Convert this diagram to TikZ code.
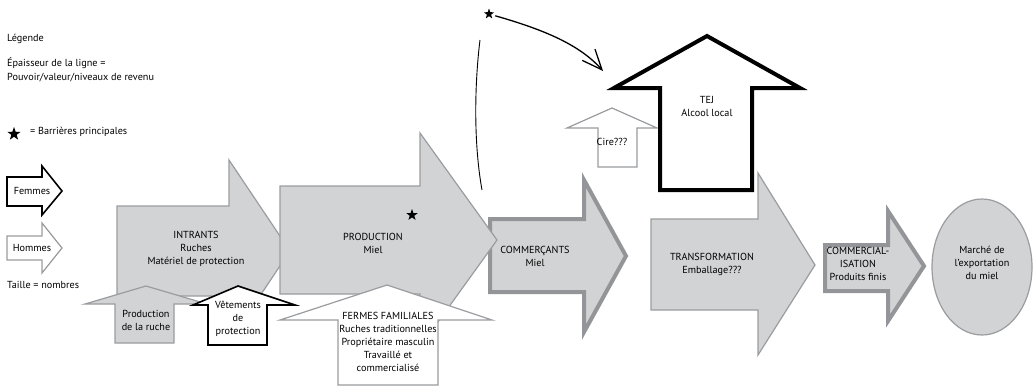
\documentclass[tikz,border=0pt]{standalone}
\usepackage{fontspec}
\setmainfont{PT Sans}
\usetikzlibrary{arrows.meta,shapes.geometric}
\definecolor{boxfill}{HTML}{D1D3D4}
\definecolor{boxline}{HTML}{9A9C9F}
\definecolor{heavyline}{HTML}{939598}
\begin{document}
\begin{tikzpicture}[x=1pt,y=-1pt,
  txt/.style={font=\fontsize{10.2}{13}\selectfont, align=center, inner sep=0pt},
  legendtxt/.style={font=\fontsize{10.2}{14.5}\selectfont, align=left, anchor=west, inner sep=0pt},
  stage/.style={fill=boxfill, draw=boxline, line width=1.2pt, line join=miter},
  heavystage/.style={fill=boxfill, draw=heavyline, line width=4pt, line join=miter},
  menarrow/.style={fill=white, draw=boxline, line width=1.2pt, line join=miter},
  womenarrow/.style={fill=white, draw=black, line width=1.6pt, line join=miter},
  barrier/.style={star, star points=5, star point ratio=2.5, fill=black, inner sep=0pt, minimum size=#1},
  barrier/.default=10pt,
  link/.style={draw=black, line width=1.3pt}
]
\useasboundingbox (0,0) rectangle (1035,388);

% ---- legend ----
\node[legendtxt] (leg) at (7,39) {Légende};
\node[legendtxt] (legwidth) at (7,70) {Épaisseur de la ligne =\\Pouvoir/valeur/niveaux de revenu};
\node[barrier=14pt] (legstar) at (14,134) {};
\node[legendtxt] (legstartxt) at (30,132) {= Barrières principales};
\draw[womenarrow] (7,177) -- (42,177) -- (42,166) -- (62,191) -- (42,215) -- (42,206) -- (7,206) -- cycle;
\node[txt] (legwomen) at (32,191) {Femmes};
\draw[menarrow] (7,236) -- (42,236) -- (42,223) -- (62,248) -- (42,273) -- (42,260) -- (7,260) -- cycle;
\node[txt] (legmen) at (32,248) {Hommes};
\node[legendtxt] (legsize) at (7,285) {Taille = nombres};

% ---- value chain ----
\draw[stage] (117,206) -- (229,206) -- (229,160) -- (290,251) -- (229,342) -- (229,296) -- (117,296) -- cycle;
\draw[heavystage] (490,219) -- (584,219) -- (584,180) -- (626,256) -- (584,332) -- (584,292) -- (490,292) -- cycle;
\draw[stage] (280,186) -- (420,186) -- (420,133) -- (497,240) -- (420,347) -- (420,294) -- (280,294) -- cycle;
\draw[stage] (651,219) -- (758,219) -- (758,173) -- (815,265) -- (758,355) -- (758,310) -- (651,310) -- cycle;
\draw[heavystage] (825,245) -- (888,245) -- (888,211) -- (924,266) -- (888,321) -- (888,291) -- (825,291) -- cycle;
\draw[stage] (982,267) ellipse [x radius=50, y radius=68];

% ---- side products ----
\draw[menarrow] (567,128) -- (612,108) -- (657,128) -- (637,128) -- (637,167) -- (598,167) -- (598,128) -- cycle;
\draw[womenarrow, line width=4pt] (614,88) -- (707,36) -- (800,88) -- (752,88) -- (752,190) -- (660,190) -- (660,88) -- cycle;

% ---- inputs from below ----
\draw[stage] (85,304) -- (146,286) -- (207,304) -- (174,304) -- (174,343) -- (115,343) -- (115,304) -- cycle;
\draw[womenarrow] (193,305) -- (238,286) -- (295,305) -- (267,305) -- (267,345) -- (208,345) -- (208,305) -- cycle;
\draw[menarrow] (280,320) -- (387,285) -- (492,320) -- (438,320) -- (438,385) -- (338,385) -- (338,320) -- cycle;

% ---- labels ----
\node[txt] (intrants) at (196,249) {INTRANTS\\Ruches\\Matériel de protection};
\node[txt] (production) at (373,243) {PRODUCTION\\Miel};
\node[barrier=12pt] (prodstar) at (412,215) {};
\node[txt] (traders) at (535,256) {COMMERÇANTS\\Miel};
\node[txt] (tej) at (707,106) {TEJ\\Alcool local};
\node[txt] (wax) at (612,142) {Cire???};
\node[txt] (processing) at (712,264) {TRANSFORMATION\\Emballage???};
\node[txt] (marketing) at (858,264) {COMMERCIAL-\\ISATION\\Produits finis};
\node[txt] (export) at (982,263) {Marché de\\l’exportation\\du miel};
\node[txt] (hives) at (146,320) {Production\\de la ruche};
\node[txt] (clothing) at (238,319) {Vêtements\\de\\protection};
\node[txt] (farms) at (388,342) {FERMES FAMILIALES\\Ruches traditionnelles\\Propriétaire masculin\\Travaillé et\\commercialisé};

% ---- barrier towards local alcohol ----
\node[barrier=11pt] (topstar) at (489,14) {};
\coordinate (tejin) at (603,71);
\draw[link, shorten <=4pt, -{Straight Barb[length=20pt, width=17pt, line width=1.3pt]}]
  (topstar) .. controls (545,30) and (580,45) .. (tejin);
\coordinate (riseA) at (482,190);
\coordinate (riseB) at (480,40);
\draw[draw=black, line width=0.9pt] (riseA) .. controls (473,140) and (475,80) .. (riseB);
\end{tikzpicture}
\end{document}
